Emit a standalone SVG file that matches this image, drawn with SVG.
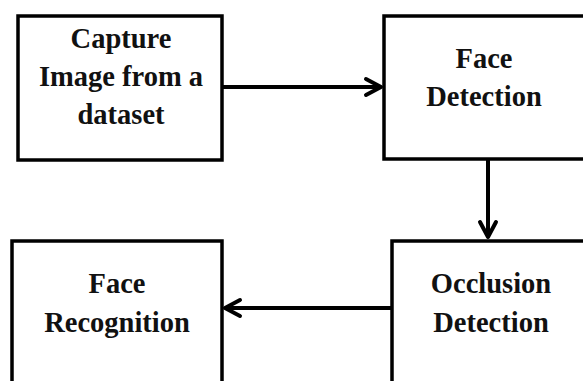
<svg xmlns="http://www.w3.org/2000/svg" width="583" height="381" viewBox="0 0 583 381">
<style>
.box{fill:#fff;stroke:#000;stroke-width:3.5}
.lbl{font-family:"Liberation Serif","Times New Roman",serif;font-weight:bold;font-size:28.5px;fill:#111;text-anchor:middle}
.conn{stroke:#000;stroke-width:4;fill:none}
.head{stroke:#000;stroke-width:4;fill:none;stroke-linecap:round;stroke-linejoin:round}
</style>
<rect width="583" height="381" fill="#fff"/>
<g id="capture">
<rect class="box" x="18" y="16" width="204" height="144"/>
<text class="lbl" x="121" y="48">Capture</text>
<text class="lbl" x="121" y="86">Image from a</text>
<text class="lbl" x="121" y="124">dataset</text>
</g>
<g id="face-detection">
<rect class="box" x="384" y="16" width="210" height="143"/>
<text class="lbl" x="484" y="68">Face</text>
<text class="lbl" x="484" y="106">Detection</text>
</g>
<g id="occlusion-detection">
<rect class="box" x="392" y="241" width="210" height="150"/>
<text class="lbl" x="491" y="293">Occlusion</text>
<text class="lbl" x="491" y="332">Detection</text>
</g>
<g id="face-recognition">
<rect class="box" x="12" y="241" width="210" height="150"/>
<text class="lbl" x="117" y="293">Face</text>
<text class="lbl" x="117" y="332">Recognition</text>
</g>
<g id="connectors">
<line class="conn" x1="222" y1="87" x2="380" y2="87"/>
<polyline class="head" points="366,79 381,87 366,95"/>
<line class="conn" x1="488" y1="160" x2="488" y2="237"/>
<polyline class="head" points="480,222 488,237 496,222"/>
<line class="conn" x1="392" y1="308" x2="226" y2="308"/>
<polyline class="head" points="240,300 225,308 240,316"/>
</g>
</svg>
